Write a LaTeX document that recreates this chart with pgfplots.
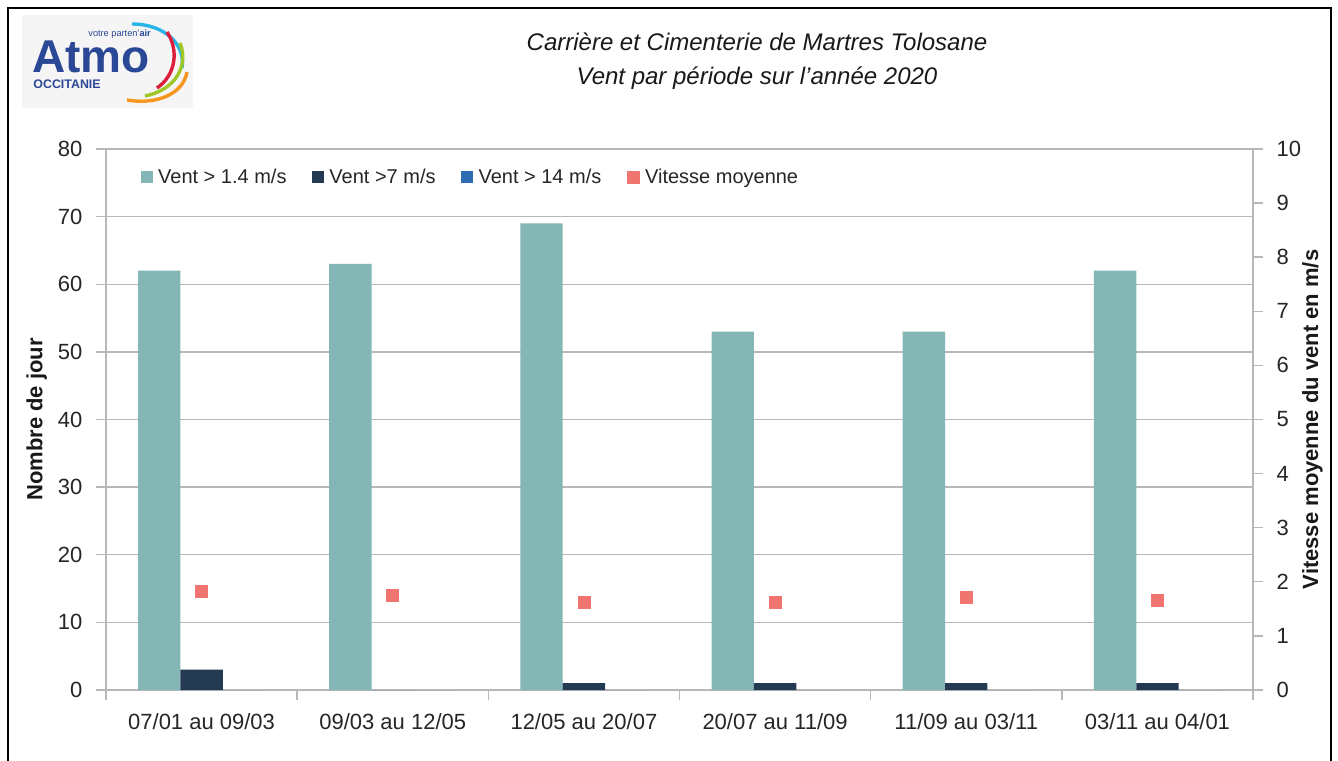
\documentclass[border=0pt]{standalone}
\usepackage{fontspec}
\setmainfont{Liberation Sans}
\usepackage{pgfplots}
\pgfplotsset{compat=1.18}
\definecolor{teal1}{RGB}{132,182,182}
\definecolor{navy1}{RGB}{36,58,82}
\definecolor{blue1}{RGB}{46,109,180}
\definecolor{red1}{RGB}{240,116,112}
\definecolor{gridgray}{RGB}{184,184,184}
\definecolor{atmoblue}{RGB}{43,72,150}
\definecolor{atmocyan}{RGB}{40,180,230}
\definecolor{atmored}{RGB}{220,30,60}
\definecolor{atmogreen}{RGB}{160,200,40}
\definecolor{atmoorange}{RGB}{245,150,30}
\begin{document}
\begin{tikzpicture}
\useasboundingbox (0,0) rectangle (669pt,380pt);
\fill[white] (0,0) rectangle (669pt,380pt);
\draw[black, line width=0.9pt] (4pt,-1pt) -- (4pt,376pt) -- (665.5pt,376pt) -- (665.5pt,-1pt);
\begin{scope}[shift={(0pt,380pt)}, x=0.5pt, y=-0.5pt]
  \fill[black!4] (22,15) rectangle (193,108);
  \node[anchor=base west, inner sep=0pt, text height=16.4pt, text depth=0pt, text=atmoblue, font=\bfseries\fontsize{23}{23}\selectfont] at (32,73) {Atmo};
  \node[anchor=base west, inner sep=0pt, text height=3.3pt, text depth=0pt, text=atmoblue, font=\fontsize{4.6}{5}\selectfont] at (88,37) {votre parten'\textbf{air}};
  \node[anchor=base west, inner sep=0pt, text=atmoblue, font=\bfseries\fontsize{6.2}{7}\selectfont] at (33,89) {OCCITANIE};
  \draw[atmocyan, line width=1.7pt] (132,24) .. controls (165,24) and (186,45) .. (182,68);
  \draw[atmored, line width=1.7pt] (167,32) .. controls (179,50) and (176,75) .. (157,88);
  \draw[atmogreen, line width=1.7pt] (180,43) .. controls (189,65) and (176,90) .. (145,96);
  \draw[atmoorange, line width=1.7pt] (187,72) .. controls (183,95) and (155,105) .. (127,100);
  \node[anchor=base, inner sep=0pt, font=\itshape\fontsize{12}{14}\selectfont, text=black!90] at (757,51) {Carrière et Cimenterie de Martres Tolosane};
  \node[anchor=base, inner sep=0pt, font=\itshape\fontsize{12}{14}\selectfont, text=black!90] at (757,85) {Vent par période sur l'année 2020};
\end{scope}
\begin{axis}[
  at={(53pt,35pt)}, anchor=south west, scale only axis,
  width=573.5pt, height=270.5pt,
  xmin=-0.5, xmax=5.5, ymin=0, ymax=80,
  ytick={0,10,...,80},
  xtick={0,...,5},
  xticklabels={07/01 au 09/03, 09/03 au 12/05, 12/05 au 20/07, 20/07 au 11/09, 11/09 au 03/11, 03/11 au 04/01},
  minor xtick={-0.5,0.5,...,5.5},
  major x tick style={draw=none},
  tick align=outside, tick pos=left,
  major tick length=5pt, minor tick length=5pt,
  every tick/.style={gridgray, line width=0.7pt},
  ymajorgrids, grid style={gridgray, line width=0.7pt},
  axis line style={gridgray, line width=0.7pt},
  /pgf/number format/assume math mode=true,
  ticklabel style={font=\fontsize{11}{13}\selectfont, text=black!85},
  yticklabel style={xshift=-3.3pt},
  xticklabel style={yshift=-3pt},
  ylabel={Nombre de jour},
  ylabel style={font=\bfseries\fontsize{11}{13}\selectfont, text=black!90, at={(axis description cs:-0.0604,0.5)}, anchor=center, rotate=0},
  ybar, bar width=0.2215,
  legend columns=4,
  legend style={at={(0.0303,0.9477)}, anchor=west, draw=none, fill=none, inner sep=0pt, outer sep=0pt,
    font=\fontsize{10}{12}\selectfont, text=black!85,
    nodes={inner sep=0pt},
    /tikz/every odd column/.append style={column sep=2.7pt},
    /tikz/every even column/.append style={column sep=12.75pt}},
  legend cell align=left,
]
\addplot[fill=teal1, draw=none, bar shift=-0.2215, legend image code/.code={\fill[teal1] (0pt,-3pt) rectangle (6pt,3pt);}]
  coordinates {(0,62) (1,63) (2,69) (3,53) (4,53) (5,62)};
\addlegendentry{Vent > 1.4 m/s}
\addplot[fill=navy1, draw=none, bar shift=0, legend image code/.code={\fill[navy1] (0pt,-3pt) rectangle (6pt,3pt);}]
  coordinates {(0,3) (1,0) (2,1) (3,1) (4,1) (5,1)};
\addlegendentry{Vent >7 m/s}
\addplot[fill=blue1, draw=none, bar shift=0.2215, legend image code/.code={\fill[blue1] (0pt,-3pt) rectangle (6pt,3pt);}]
  coordinates {(0,0) (1,0) (2,0) (3,0) (4,0) (5,0)};
\addlegendentry{Vent > 14 m/s}
\addlegendimage{legend image code/.code={\fill[red1] (0pt,-3pt) rectangle (6pt,3pt);}}
\addlegendentry{Vitesse moyenne}
\end{axis}
\begin{axis}[
  at={(53pt,35pt)}, anchor=south west, scale only axis,
  width=573.5pt, height=270.5pt,
  xmin=-0.5, xmax=5.5, ymin=0, ymax=10,
  ytick={0,1,...,10},
  axis y line*=right, axis x line=none,
  tick align=outside,
  major tick length=5pt,
  every tick/.style={gridgray, line width=0.7pt},
  axis line style={gridgray, line width=0.7pt},
  /pgf/number format/assume math mode=true,
  ticklabel style={font=\fontsize{11}{13}\selectfont, text=black!85},
  yticklabel style={xshift=3.3pt},
  ylabel={Vitesse moyenne du vent en m/s},
  ylabel style={font=\bfseries\fontsize{11}{13}\selectfont, text=black!90, at={(axis description cs:1.0519,0.5)}, anchor=center, rotate=0},
]
\addplot[only marks, mark=square*, mark size=3pt, color=red1]
  coordinates {(0,1.83) (1,1.75) (2,1.61) (3,1.61) (4,1.71) (5,1.66)};
\end{axis}
\end{tikzpicture}
\end{document}
